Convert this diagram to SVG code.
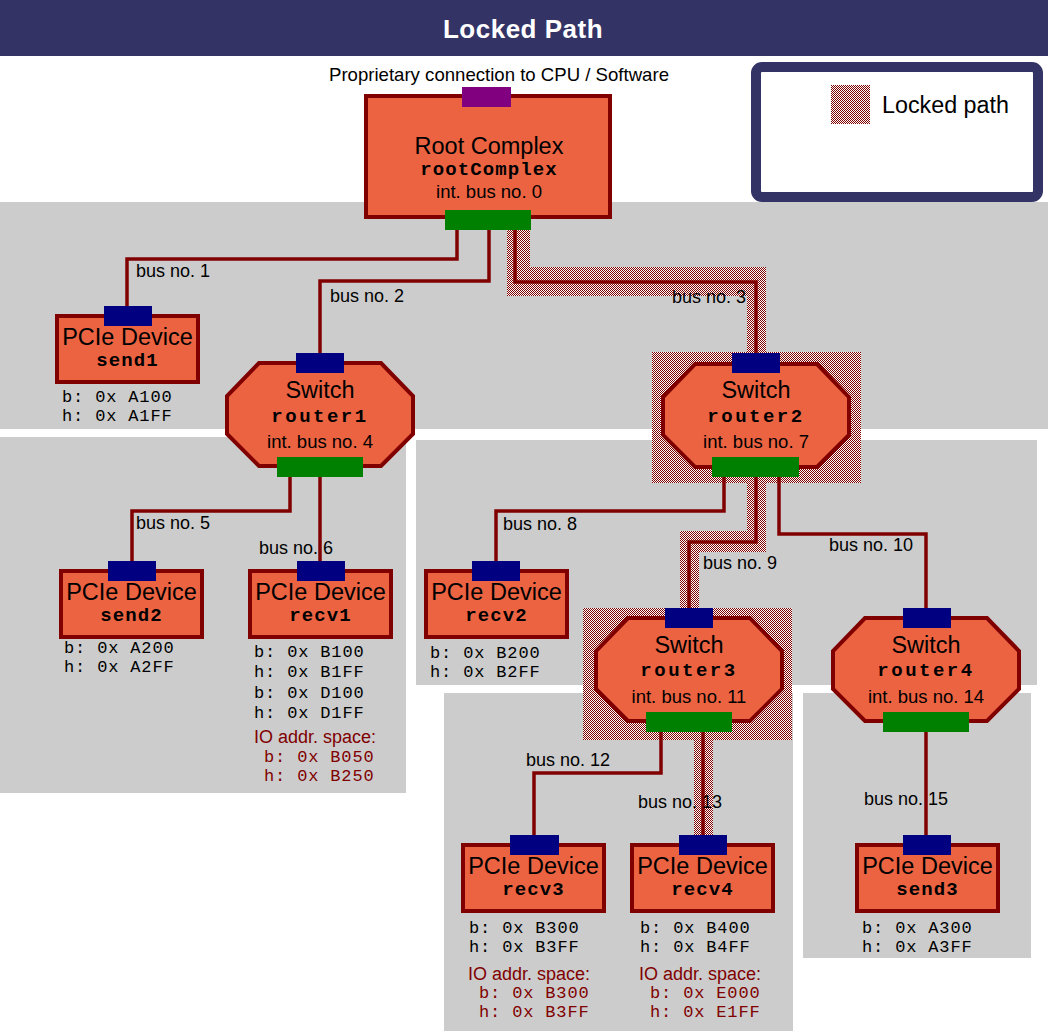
<svg xmlns="http://www.w3.org/2000/svg" width="1048" height="1031" viewBox="0 0 1048 1031">
<style>
.region{fill:#cccccc}
.lock{fill:url(#lockpat)}
.dev{fill:#ec6342;stroke:#800000;stroke-width:4}
.port{fill:#000080}
.gport{fill:#008000}
.wire{fill:none;stroke:#800000;stroke-width:3.5}
.big{font-family:"Liberation Sans",Arial,sans-serif;font-size:23.5px;fill:#000;text-anchor:middle}
.mid{font-family:"Liberation Sans",Arial,sans-serif;font-size:18.5px;fill:#000;text-anchor:middle}
.lbl{font-family:"Liberation Sans",Arial,sans-serif;font-size:18px;fill:#000}
.io{font-family:"Liberation Sans",Arial,sans-serif;font-size:18px;fill:#800000}
.name{font-family:"Liberation Mono","Courier New",monospace;font-size:19px;font-weight:bold;fill:#000;text-anchor:middle;letter-spacing:1.1px}
.rname{font-family:"Liberation Mono","Courier New",monospace;font-size:19px;font-weight:bold;fill:#000;text-anchor:middle;letter-spacing:2.5px}
.addr{font-family:"Liberation Mono","Courier New",monospace;font-size:17px;fill:#000;letter-spacing:0.85px}
.ioaddr{font-family:"Liberation Mono","Courier New",monospace;font-size:17px;fill:#800000;letter-spacing:0.85px}
</style>
<defs>
<pattern id="lockpat" width="2" height="2" patternUnits="userSpaceOnUse">
<rect width="2" height="2" fill="#ffffff"/>
<rect width="1" height="1" fill="#800000"/>
<rect x="1" y="1" width="1" height="1" fill="#800000"/>
</pattern>
<polygon id="oct" points="-61,2 61,2 93,35 93,73 61,105 -61,105 -93,73 -93,35"/>
</defs>

<rect x="0" y="0" width="1048" height="1031" fill="#ffffff"/>

<g id="title">
<rect x="0" y="0" width="1048" height="56" fill="#333366"/>
<text x="523" y="38" font-family="'Liberation Sans',Arial,sans-serif" font-size="26" font-weight="bold" fill="#ffffff" text-anchor="middle" letter-spacing="0.5">Locked Path</text>
</g>

<g id="regions">
<rect class="region" x="0" y="202" width="1048" height="227"/>
<rect class="region" x="0" y="437" width="406" height="356"/>
<rect class="region" x="416" y="440" width="621" height="245"/>
<rect class="region" x="444" y="693" width="349" height="338"/>
<rect class="region" x="803" y="693" width="228" height="265"/>
</g>

<g id="legend">
<rect x="756" y="67" width="282" height="130" rx="6" fill="#ffffff" stroke="#333366" stroke-width="10"/>
<rect class="lock" x="831" y="85" width="39" height="39"/>
<text x="882" y="113" font-family="'Liberation Sans',Arial,sans-serif" font-size="23.3" fill="#000">Locked path</text>
</g>

<g id="locked-path">
<path class="lock" d="M507,229 H530 V267 H766 V352 H747 V296 H507 Z"/>
<rect class="lock" x="652" y="352" width="209" height="131"/>
<path class="lock" d="M747,483 H766 V552 H699 V608 H680 V531 H747 Z"/>
<rect class="lock" x="583" y="608" width="209" height="132"/>
<rect class="lock" x="694" y="740" width="19" height="96"/>
</g>

<g id="connectors">
<path class="wire" d="M457,229 V259 H127 V306"/>
<path class="wire" d="M489,229 V281 H320 V353"/>
<path class="wire" d="M515,229 V282 H756 V353"/>
<path class="wire" d="M290,476 V511 H132 V561"/>
<path class="wire" d="M320,476 V561"/>
<path class="wire" d="M724,476 V511 H496 V561"/>
<path class="wire" d="M756,476 V542 H689 V608"/>
<path class="wire" d="M779,476 V534 H926 V608"/>
<path class="wire" d="M661,731 V773 H534 V835"/>
<path class="wire" d="M703,731 V835"/>
<path class="wire" d="M926,731 V835"/>
<text class="lbl" x="136" y="277">bus no. 1</text>
<text class="lbl" x="330" y="302">bus no. 2</text>
<text class="lbl" x="672" y="303">bus no. 3</text>
<text class="lbl" x="136" y="529">bus no. 5</text>
<text class="lbl" x="259" y="554">bus no. 6</text>
<text class="lbl" x="503" y="530">bus no. 8</text>
<text class="lbl" x="703" y="569">bus no. 9</text>
<text class="lbl" x="829" y="551">bus no. 10</text>
<text class="lbl" x="526" y="766">bus no. 12</text>
<text class="lbl" x="638" y="808">bus no. 13</text>
<text class="lbl" x="864" y="805">bus no. 15</text>
</g>

<g id="rootComplex">
<text x="499" y="81" font-family="'Liberation Sans',Arial,sans-serif" font-size="18.6" fill="#000" text-anchor="middle">Proprietary connection to CPU / Software</text>
<rect class="dev" x="366" y="96" width="244" height="121"/>
<rect x="462" y="87" width="49" height="20" fill="#800080"/>
<text class="big" x="489" y="154">Root Complex</text>
<text class="name" x="489" y="175">rootComplex</text>
<text class="mid" x="489" y="198">int. bus no. 0</text>
<rect class="gport" x="445" y="210" width="86" height="20"/>
</g>

<g id="send1">
<rect class="dev" x="57" y="316" width="141" height="66"/>
<rect class="port" x="104" y="306" width="48" height="20"/>
<text class="big" x="127.5" y="345">PCIe Device</text>
<text class="name" x="127.5" y="366">send1</text>
<text class="addr" x="62" y="402">b: 0x A100</text>
<text class="addr" x="62" y="421">h: 0x A1FF</text>
</g>

<g id="router1">
<use href="#oct" x="320" y="361" class="dev"/>
<rect class="port" x="296" y="353" width="48" height="20"/>
<text class="big" x="320" y="398">Switch</text>
<text class="rname" x="320" y="422">router1</text>
<text class="mid" x="320" y="448">int. bus no. 4</text>
<rect class="gport" x="277" y="457" width="86" height="20"/>
</g>

<g id="router2">
<use href="#oct" x="756" y="362" class="dev"/>
<rect class="port" x="732" y="353" width="48" height="20"/>
<text class="big" x="756" y="398">Switch</text>
<text class="rname" x="756" y="422">router2</text>
<text class="mid" x="756" y="448">int. bus no. 7</text>
<rect class="gport" x="712" y="457" width="87" height="20"/>
</g>

<g id="send2">
<rect class="dev" x="61" y="571" width="141" height="66"/>
<rect class="port" x="108" y="561" width="48" height="20"/>
<text class="big" x="131.5" y="600">PCIe Device</text>
<text class="name" x="131.5" y="621">send2</text>
<text class="addr" x="64" y="653">b: 0x A200</text>
<text class="addr" x="64" y="672">h: 0x A2FF</text>
</g>

<g id="recv1">
<rect class="dev" x="250" y="571" width="141" height="66"/>
<rect class="port" x="297" y="561" width="48" height="20"/>
<text class="big" x="320.5" y="600">PCIe Device</text>
<text class="name" x="320.5" y="621">recv1</text>
<text class="addr" x="254" y="657">b: 0x B100</text>
<text class="addr" x="254" y="677">h: 0x B1FF</text>
<text class="addr" x="254" y="698">b: 0x D100</text>
<text class="addr" x="254" y="718">h: 0x D1FF</text>
<text class="io" x="254" y="743">IO addr. space:</text>
<text class="ioaddr" x="264" y="762">b: 0x B050</text>
<text class="ioaddr" x="264" y="781">h: 0x B250</text>
</g>

<g id="recv2">
<rect class="dev" x="426" y="571" width="141" height="66"/>
<rect class="port" x="472" y="561" width="48" height="20"/>
<text class="big" x="496.5" y="600">PCIe Device</text>
<text class="name" x="496.5" y="621">recv2</text>
<text class="addr" x="430" y="658">b: 0x B200</text>
<text class="addr" x="430" y="677">h: 0x B2FF</text>
</g>

<g id="router3">
<use href="#oct" x="689" y="616" class="dev"/>
<rect class="port" x="665" y="608" width="48" height="20"/>
<text class="big" x="689" y="653">Switch</text>
<text class="rname" x="689" y="676">router3</text>
<text class="mid" x="689" y="703">int. bus no. 11</text>
<rect class="gport" x="646" y="712" width="86" height="20"/>
</g>

<g id="router4">
<use href="#oct" x="926" y="616" class="dev"/>
<rect class="port" x="903" y="608" width="48" height="20"/>
<text class="big" x="926" y="653">Switch</text>
<text class="rname" x="926" y="676">router4</text>
<text class="mid" x="926" y="703">int. bus no. 14</text>
<rect class="gport" x="883" y="712" width="86" height="20"/>
</g>

<g id="recv3">
<rect class="dev" x="463" y="845" width="141" height="66"/>
<rect class="port" x="510" y="835" width="49" height="20"/>
<text class="big" x="533.5" y="874">PCIe Device</text>
<text class="name" x="533.5" y="895">recv3</text>
<text class="addr" x="469" y="933">b: 0x B300</text>
<text class="addr" x="469" y="952">h: 0x B3FF</text>
<text class="io" x="468" y="980">IO addr. space:</text>
<text class="ioaddr" x="479" y="998">b: 0x B300</text>
<text class="ioaddr" x="479" y="1017">h: 0x B3FF</text>
</g>

<g id="recv4">
<rect class="dev" x="632" y="845" width="141" height="66"/>
<rect class="port" x="679" y="835" width="48" height="20"/>
<text class="big" x="702.5" y="874">PCIe Device</text>
<text class="name" x="702.5" y="895">recv4</text>
<text class="addr" x="640" y="933">b: 0x B400</text>
<text class="addr" x="640" y="952">h: 0x B4FF</text>
<text class="io" x="639" y="980">IO addr. space:</text>
<text class="ioaddr" x="650" y="998">b: 0x E000</text>
<text class="ioaddr" x="650" y="1017">h: 0x E1FF</text>
</g>

<g id="send3">
<rect class="dev" x="857" y="845" width="141" height="66"/>
<rect class="port" x="903" y="835" width="48" height="20"/>
<text class="big" x="927.5" y="874">PCIe Device</text>
<text class="name" x="927.5" y="895">send3</text>
<text class="addr" x="862" y="933">b: 0x A300</text>
<text class="addr" x="862" y="952">h: 0x A3FF</text>
</g>
</svg>
